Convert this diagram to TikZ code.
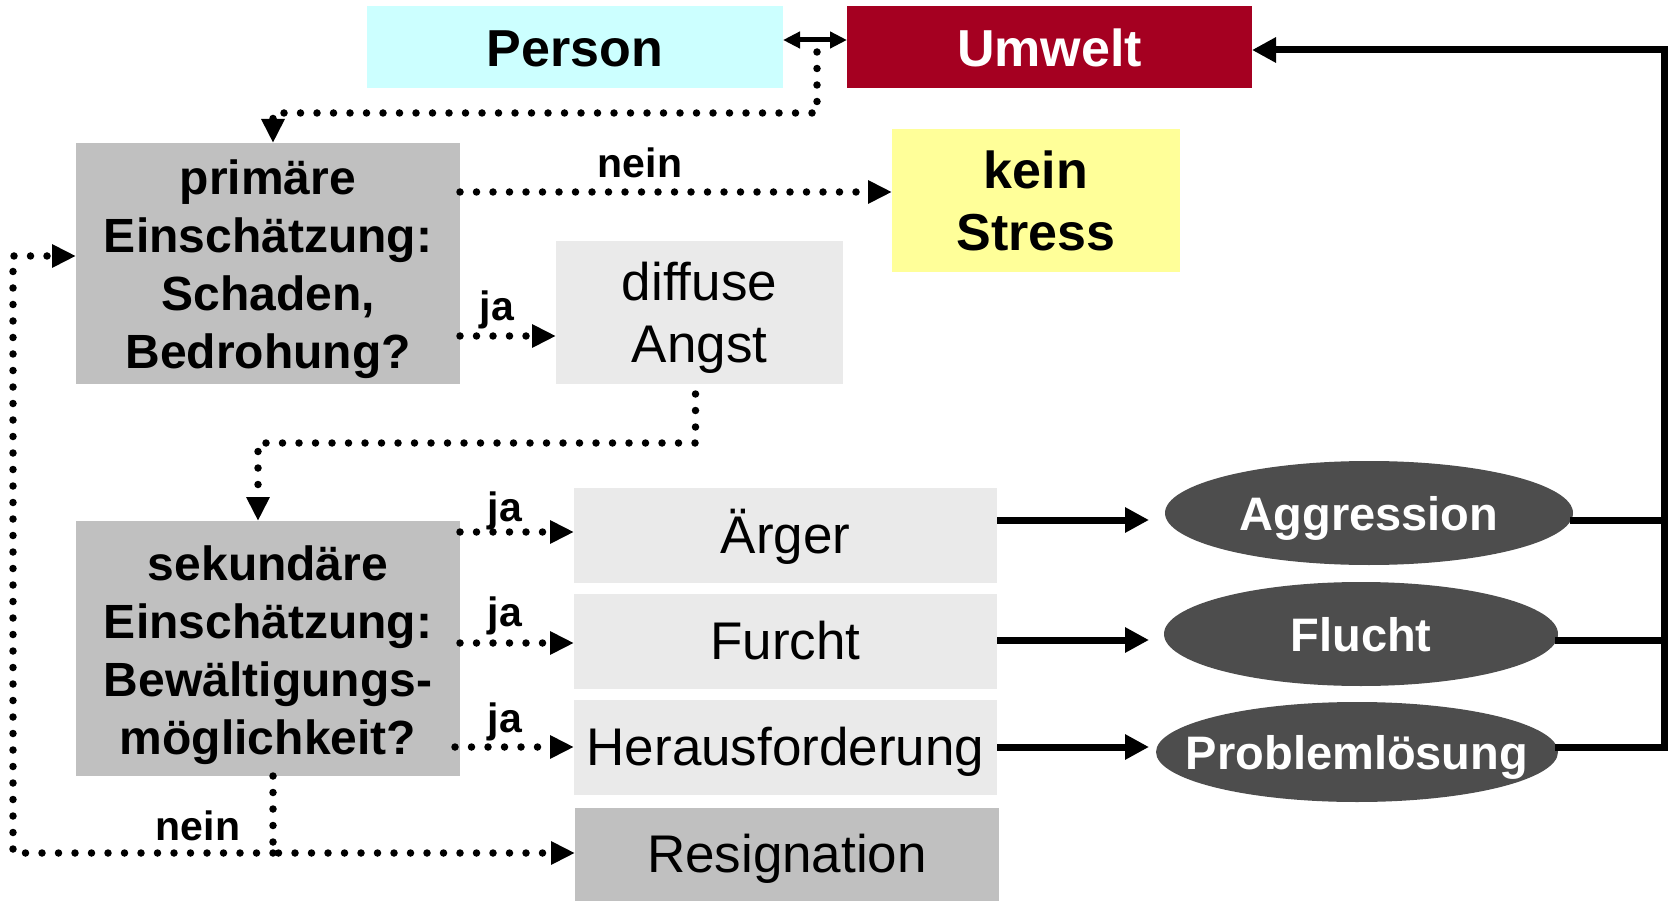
\documentclass[tikz,border=0pt]{standalone}
\usepackage{fontspec}
\setmainfont{Liberation Sans}
\usetikzlibrary{arrows.meta,shapes.geometric}
\definecolor{cperson}{HTML}{CCFFFF}
\definecolor{cumwelt}{HTML}{A50021}
\definecolor{cstress}{HTML}{FFFF99}
\definecolor{cgray}{HTML}{C0C0C0}
\definecolor{clight}{HTML}{EAEAEA}
\definecolor{cell}{HTML}{4D4D4D}
\begin{document}
\begin{tikzpicture}[x=1pt,y=-1pt,
  box/.style={inner sep=0pt, outer sep=0pt, align=center, anchor=center},
  boldbox/.style={box, font=\fontsize{48}{58}\selectfont\bfseries},
  regbox/.style={box, fill=clight, font=\fontsize{53}{62}\selectfont},
  oneline/.style={text height=47pt, text depth=11pt},
  topbox/.style={box, font=\fontsize{52}{62}\selectfont\bfseries, minimum height=82pt, text height=45pt, text depth=5pt},
  ellbox/.style={ellipse, inner sep=0pt, outer sep=0pt, fill=cell, text=white, text height=34pt, text depth=0pt, font=\fontsize{47}{56}\selectfont\bfseries},
  lbl/.style={inner sep=0pt, font=\fontsize{41}{41}\selectfont\bfseries},
  dotarrow/.style={line width=7.5pt, line cap=round, dash pattern=on 0pt off 16.5pt, -{Triangle[length=24pt,width=22pt]}},
  solidline/.style={line width=7pt},
  solidarrow/.style={solidline, -{Triangle[length=24pt,width=24pt]}}
]
\useasboundingbox (0,0) rectangle (1671,901);

% boxes
\node[topbox, fill=cperson, minimum width=416pt] (per) at (575,47) {Person};
\node[topbox, fill=cumwelt, text=white, minimum width=405pt] (umw) at (1049.5,47) {Umwelt};
\node[boldbox, fill=cgray, minimum width=384pt, minimum height=241pt] (prim) at (268,263.5) {\rule{0pt}{46pt}primäre\\Einschätzung:\\Schaden,\\Bedrohung?};
\node[box, fill=cstress, minimum width=288pt, minimum height=143pt, font=\fontsize{52}{62}\selectfont\bfseries] (kein) at (1036,200.5) {kein\\Stress};
\node[regbox, minimum width=287pt, minimum height=143pt] (diff) at (699.5,312.5) {\rule{0pt}{49pt}diffuse\\Angst};
\node[boldbox, fill=cgray, minimum width=384pt, minimum height=255pt] (sek) at (268,648.5) {\rule{0pt}{48pt}sekundäre\\Einschätzung:\\Bewältigungs-\\möglichkeit?};
\node[regbox, oneline, minimum width=423pt, minimum height=95pt] (aer) at (785.5,535.5) {Ärger};
\node[regbox, oneline, minimum width=423pt, minimum height=95pt] (fur) at (785.5,641.5) {Furcht};
\node[regbox, oneline, minimum width=423pt, minimum height=95pt] (her) at (785.5,747.5) {Herausforderung};
\node[regbox, oneline, fill=cgray, minimum width=424pt, minimum height=93pt] (res) at (787,854.5) {Resignation};

% ellipses
\node[ellbox, minimum width=408pt, minimum height=104pt] (agg) at (1369,513) {\makebox[0pt]{Aggression}};
\node[ellbox, minimum width=394pt, minimum height=104pt] (flu) at (1361,634) {\makebox[0pt]{Flucht}};
\node[ellbox, minimum width=402pt, minimum height=100pt] (prob) at (1357,752) {\makebox[0pt]{Problemlösung}};

% person <-> umwelt
\draw[line width=5pt, {Triangle[length=17pt,width=16pt]}-{Triangle[length=17pt,width=16pt]}] (per.east |- 0,40) -- (umw.west |- 0,40);

% dotted connectors
\coordinate (pu) at (817,52);
\draw[dotarrow] (pu) -- (817,113) -- (273,113) -- (prim.north -| 273,0);
\draw[dotarrow] (prim.east |- 0,192) -- (kein.west |- 0,192);
\draw[dotarrow] (prim.east |- 0,336) -- (diff.west |- 0,336);
\draw[dotarrow] ([xshift=-4pt,yshift=-10pt]diff.south) |- (258,443) -- (sek.north -| 258,0);
\draw[dotarrow] (sek.east |- 0,532) -- (aer.west |- 0,532);
\draw[dotarrow] (sek.east |- 0,643) -- (fur.west |- 0,643);
\draw[dotarrow] (455,747) -- (her.west |- 0,747);
\coordinate (br) at (273,853);
\draw[dotarrow] (sek.south -| 273,0) -- (br) -- (res.west |- br);
\draw[dotarrow] (br) -- (13,853) -- (13,256) -- (prim.west |- 0,256);

% labels
\node[lbl] (n1) at (640,163) {nein};
\node[lbl] (j0) at (497,310) {ja};
\node[lbl] (j1) at (505,511) {ja};
\node[lbl] (j2) at (505,616) {ja};
\node[lbl] (j3) at (505,722) {ja};
\node[lbl] (n2) at (198,826) {nein};

% solid connectors
\coordinate (fb) at (1664,50);
\coordinate (tipx) at (1149,0);
\draw[solidarrow] (aer.east |- 0,520) -- (tipx |- 0,520);
\draw[solidarrow] (fur.east |- 0,640) -- (tipx |- 0,640);
\draw[solidarrow] (her.east |- 0,747) -- (tipx |- 0,747);
\draw[solidline] ([xshift=-3pt]agg.east |- 0,520) -- (fb |- 0,520);
\draw[solidline] ([xshift=-3pt]flu.east |- 0,640) -- (fb |- 0,640);
\draw[solidarrow] ([xshift=-3pt]prob.east |- 0,747) -- (fb |- 0,747) -- (fb) -- (umw.east |- fb);
\end{tikzpicture}
\end{document}
